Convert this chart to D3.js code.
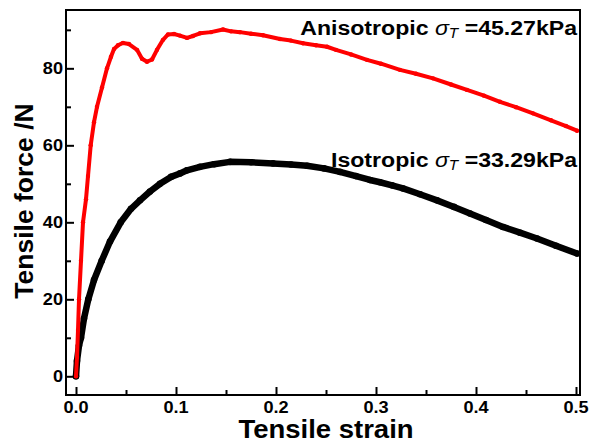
<!DOCTYPE html>
<html>
<head>
<meta charset="utf-8">
<script src="https://cdn.jsdelivr.net/npm/d3@7"></script>
<style>
  body { margin: 0; background: #fff; }
  text { font-family: "Liberation Sans", Arial, sans-serif; font-weight: bold; }
</style>
</head>
<body>
<div class="chart"><svg width="589" height="443"></svg></div>
<script>
// strain / force pairs
const anisoStrain = [0, 0.001, 0.002, 0.003, 0.005, 0.007, 0.010, 0.012, 0.0147, 0.018, 0.021, 0.026, 0.031, 0.035, 0.038, 0.042, 0.047, 0.053, 0.061, 0.066, 0.071, 0.076, 0.081, 0.087, 0.092, 0.098, 0.104, 0.111, 0.117, 0.124, 0.135, 0.147, 0.155, 0.164, 0.175, 0.187, 0.204, 0.215, 0.227, 0.240, 0.251, 0.260, 0.275, 0.291, 0.305, 0.324, 0.340, 0.357, 0.375, 0.391, 0.408, 0.424, 0.440, 0.457, 0.475, 0.490, 0.501];
const anisoForce = [0, 5, 12, 20, 30, 40, 46, 52, 60, 66, 70, 75, 80, 83, 85, 86, 86.6, 86.3, 84.8, 82.5, 81.7, 82.3, 84.8, 87.4, 88.8, 88.9, 88.5, 87.9, 88.4, 89.1, 89.4, 90.1, 89.6, 89.4, 89.0, 88.6, 87.6, 87.2, 86.5, 86.0, 85.6, 84.8, 83.6, 82.2, 81.2, 79.6, 78.6, 77.4, 75.8, 74.4, 72.9, 71.3, 69.9, 68.3, 66.5, 65.0, 63.8];

const isoStrain = [0, 0.001, 0.003, 0.005, 0.008, 0.0123, 0.018, 0.0257, 0.034, 0.0447, 0.055, 0.064, 0.074, 0.084, 0.095, 0.104, 0.111, 0.124, 0.138, 0.154, 0.175, 0.197, 0.215, 0.231, 0.248, 0.264, 0.280, 0.294, 0.304, 0.316, 0.327, 0.344, 0.361, 0.378, 0.394, 0.410, 0.427, 0.444, 0.461, 0.480, 0.501];
const isoForce = [0, 4, 8, 10, 15, 20, 25, 30, 35, 40, 43.5, 45.7, 48, 50, 51.8, 52.7, 53.5, 54.4, 55.1, 55.7, 55.6, 55.3, 55.0, 54.7, 54.0, 53.1, 52.0, 51.0, 50.4, 49.6, 48.8, 47.3, 45.7, 44.0, 42.3, 40.6, 38.8, 37.3, 35.8, 33.9, 31.9];

const xTicks = [0, 0.1, 0.2, 0.3, 0.4, 0.5];
const yTicks = [0, 20, 40, 60, 80];
const xMinor = [0.05, 0.15, 0.25, 0.35, 0.45];
const yMinor = [10, 30, 50, 70, 90];

const plotLeft = 66, plotRight = 580, plotTop = 10, plotBottom = 395;
const stretch = 1.1; // the text in the picture is a bit wider than Liberation Sans

const x = d3.scaleLinear().domain([-0.01, 0.504]).range([plotLeft, plotRight]);
const y = d3.scaleLinear().domain([-4.86, 95.15]).range([plotBottom, plotTop]);

const svg = d3.select(".chart svg");

const toPoints = (xs, ys) => xs.map((v, i) => [v, ys[i]]);
const line = d3.line().x(d => x(d[0])).y(d => y(d[1]));
const at = (px, py) => `translate(${px},${py}) scale(${stretch},1)`;

// curves (black under red)
const series = [
  { pts: toPoints(isoStrain, isoForce), color: '#000', w: 6.5, r: 3.3 },
  { pts: toPoints(anisoStrain, anisoForce), color: '#ff0000', w: 4, r: 2.2 }
];

series.forEach(s => {
  svg.append('path')
    .datum(s.pts)
    .attr('d', line)
    .attr('fill', 'none')
    .attr('stroke', s.color)
    .attr('stroke-width', s.w)
    .attr('stroke-linejoin', 'round')
    .attr('stroke-linecap', 'round');
  svg.append('g').selectAll('circle')
    .data(s.pts)
    .enter().append('circle')
    .attr('cx', d => x(d[0]))
    .attr('cy', d => y(d[1]))
    .attr('r', s.r)
    .attr('fill', s.color);
});

// axes, ticks inside
const tickAxis = (axis, vals, size, tr) => {
  svg.append('g')
    .attr('transform', tr)
    .call(axis.tickValues(vals).tickSize(size).tickFormat(''))
    .call(g => g.select('.domain').remove())
    .selectAll('line').attr('stroke-width', 2);
};
tickAxis(d3.axisTop(x), xTicks, 8, `translate(0,${plotBottom})`);
tickAxis(d3.axisTop(x), xMinor, 5, `translate(0,${plotBottom})`);
tickAxis(d3.axisRight(y), yTicks, 8, `translate(${plotLeft},0)`);
tickAxis(d3.axisRight(y), yMinor, 5, `translate(${plotLeft},0)`);

// frame
svg.append('rect')
  .attr('x', plotLeft).attr('y', plotTop)
  .attr('width', plotRight - plotLeft).attr('height', plotBottom - plotTop)
  .attr('fill', 'none').attr('stroke', '#000').attr('stroke-width', 2);

// tick labels
svg.append('g').selectAll('text')
  .data(xTicks)
  .enter().append('text')
  .attr('transform', d => at(x(d), 413))
  .attr('text-anchor', 'middle')
  .style('font-size', '16.5px')
  .text(d => d.toFixed(1));
svg.append('g').selectAll('text')
  .data(yTicks)
  .enter().append('text')
  .attr('transform', d => at(63, y(d) + 6))
  .attr('text-anchor', 'end')
  .style('font-size', '16.5px')
  .text(d => d);

// axis titles
svg.append('text')
  .attr('transform', at(326, 438))
  .attr('text-anchor', 'middle')
  .style('font-size', '25px')
  .text('Tensile strain');
svg.append('text')
  .attr('transform', 'translate(33,201) rotate(-90)')
  .attr('text-anchor', 'middle')
  .style('font-size', '26.5px')
  .text('Tensile force /N');

// labels
const addLabel = (name, val, yPos) => {
  const t = svg.append('text')
    .attr('transform', at(577, yPos))
    .attr('text-anchor', 'end')
    .style('font-size', '21px');
  t.append('tspan').text(name + ' ');
  t.append('tspan').style('font-style', 'italic').style('font-weight', 'normal').text('σ');
  t.append('tspan').style('font-style', 'italic').style('font-weight', 'normal')
    .style('font-size', '14px').attr('dy', 3).text('T');
  t.append('tspan').attr('dy', -3).text(' =' + val + 'kPa');
};
addLabel('Anisotropic', '45.27', 35);
addLabel('Isotropic', '33.29', 167);
</script>
</body>
</html>
